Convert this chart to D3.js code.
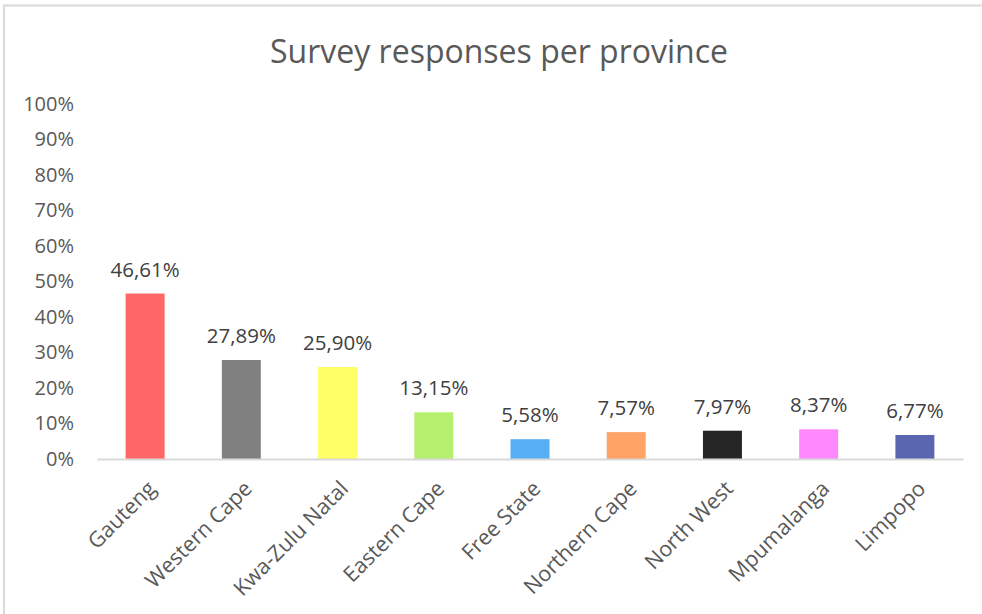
<!DOCTYPE html>
<html><head><meta charset="utf-8">
<script src="https://cdn.jsdelivr.net/npm/d3@7"></script>
<style>html,body{margin:0;padding:0;background:#fff;} text{font-family:"Open Sans",sans-serif;}</style>
</head><body>
<svg id="c" width="982" height="614"></svg>
<script>
const categories = ["Gauteng","Western Cape","Kwa-Zulu Natal","Eastern Cape","Free State","Northern Cape","North West","Mpumalanga","Limpopo"];
const values = [46.61, 27.89, 25.90, 13.15, 5.58, 7.57, 7.97, 8.37, 6.77];
const colors = ["#FF6666","#808080","#FFFF66","#B6EE6E","#57AEF5","#FFA366","#262626","#FF88FF","#5A67B0"];
const yTicks = [0,10,20,30,40,50,60,70,80,90,100];
const title = "Survey responses per province";

const svg = d3.select("#c");
svg.append("path").attr("d","M4,614V5.5H982").attr("fill","none").attr("stroke","#d9d9d9").attr("stroke-width",2);

const x = d3.scaleBand().domain(categories).range([97,963]).paddingInner(0.595).paddingOuter(0.2975);
const y = d3.scaleLinear().domain([0,100]).range([459,104]);

svg.append("text").attr("x",499).attr("y",63).attr("text-anchor","middle")
  .attr("font-size",32).attr("fill","#595959").text(title);

const ya = svg.append("g").attr("transform","translate(97,0)")
  .call(d3.axisLeft(y).tickValues(yTicks).tickFormat(d=>d+"%").tickSize(0).tickPadding(23));
ya.select(".domain").remove();
ya.selectAll("text").attr("font-size",20).attr("fill","#595959").attr("font-family","Open Sans, sans-serif");

svg.selectAll("rect.bar").data(values).join("rect").attr("class","bar")
  .attr("x",(d,i)=>x(categories[i])).attr("width",x.bandwidth())
  .attr("y",d=>y(d)).attr("height",d=>y(0)-y(d)).attr("fill",(d,i)=>colors[i]);

const xa = svg.append("g").attr("transform","translate(0,459)")
  .call(d3.axisBottom(x).tickSize(0).tickSizeOuter(0));
xa.select(".domain").attr("stroke","#d9d9d9").attr("stroke-width",2);
xa.selectAll("text").attr("font-size",21.5).attr("fill","#595959").attr("font-family","Open Sans, sans-serif")
  .attr("text-anchor","end").attr("dy",null).attr("y",null)
  .attr("transform","translate(12,31) rotate(-45)");

svg.selectAll("text.lbl").data(values).join("text").attr("class","lbl")
  .attr("x",(d,i)=>x(categories[i])+x.bandwidth()/2).attr("y",d=>y(d)-17)
  .attr("text-anchor","middle").attr("font-size",20.5).attr("fill","#404040")
  .text(d=>d.toFixed(2).replace(".",",")+"%");
</script>
</body></html>
